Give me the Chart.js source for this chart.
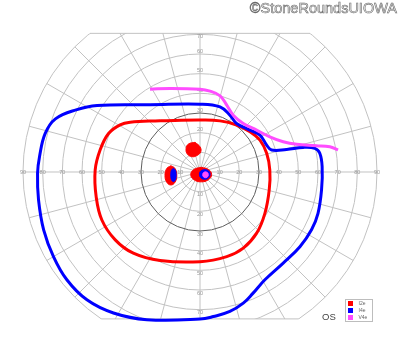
<!DOCTYPE html>
<html>
<head>
<meta charset="utf-8">
<script src="https://cdn.jsdelivr.net/npm/chart.js@4.4.0/dist/chart.umd.min.js"></script>
<style>
  html, body { margin:0; padding:0; background:#fff; }
  #wrap { position:relative; width:400px; height:352px; }
</style>
</head>
<body>
<div id="wrap"><canvas id="vf"></canvas></div>
<script>
// Goldmann visual field, left eye. All values in degrees from fixation.
const ringsDeg = [10, 20, 30, 40, 50, 60, 70, 80, 90];
const meridiansDeg = [0, 15, 30, 45, 60, 75, 90, 105, 120, 135, 150, 165, 180, 195, 210, 225, 240, 255, 270, 285, 300, 315, 330, 345];
const hTickLabels = ['10', '20', '30', '40', '50', '60', '70', '80', '90'];
const vTickLabels = ['10', '20', '30', '40', '50', '60', '70'];
const fieldTop = 70.5;
const fieldBottom = -74.7;

const legendLabels = ['I2e', 'I4e', 'V4e'];

// isopters
const isoI4e = [[-25.4,34.2],[0,34.5],[10.2,33.1],[15.2,28.9],[18.6,24.7],[25.4,21.3],[30.5,18.8],[33.9,13.7],[36.4,11.2],[44,11.5],[52.4,12.5],[58.4,12],[60.9,9.5],[62.1,2.7],[61.8,-9.1],[60,-21],[56.7,-29.4],[50.8,-38],[42.3,-46.3],[33,-54.8],[27,-61.6],[22,-66.7],[15.2,-70.9],[6.8,-73.5],[0,-74.8],[-27,-75.1],[-44,-71.7],[-57.5,-65],[-67.7,-54.8],[-74.5,-43],[-79.5,-29.4],[-82.1,-14.2],[-82.6,-0.7],[-81.6,7.8],[-78.7,19.6],[-73.5,27],[-63,31.6],[-52.3,33.8],[-25.4,34.2]];
const isoI2e = [[-20.3,26.1],[0,26.4],[10.2,26],[18.6,23.9],[25.4,20.5],[30.5,16.2],[33.9,9.5],[35.5,1],[35.2,-9.1],[33,-21],[28.8,-31.1],[22,-38.7],[13.6,-43],[0,-45.6],[-20.3,-45],[-33.9,-41.3],[-43.1,-34.5],[-49.9,-24.4],[-52.8,-12.5],[-53.3,1],[-50.8,11.2],[-46.5,19.6],[-40.6,24],[-35.5,25.3],[-20.3,26.1]];
const isoV4e = [[-25.4,42.1],[-15.2,42.5],[0,42.1],[5.1,41.1],[10.2,38.7],[13.6,34],[16.9,28.9],[22,24.7],[28.8,21.3],[35.5,17.9],[42.3,15.4],[49.1,14.1],[59.2,13.4],[66,12.8],[70.2,11.2]];

// scotomas / islands
const islandI2eUpper = [[-2.5,15.1],[0,12.8],[0.4,10.3],[-1.7,8.3],[-4.2,7.8],[-6.4,9.1],[-7.1,11.7],[-5.9,14.2],[-2.5,15.1]];
const islandI2eBlind = [[-14.8,3.2],[-12.7,1.8],[-11.8,-1.7],[-12.7,-5.2],[-14.8,-6.6],[-16.9,-5.2],[-17.8,-1.7],[-16.9,1.8],[-14.8,3.2]];
const islandI4eBlind = [[-13.5,1.9],[-12.5,0.9],[-12.15,-1.5],[-12.5,-3.9],[-13.5,-4.9],[-14.5,-3.9],[-14.85,-1.5],[-14.5,0.9],[-13.5,1.9]];
const islandI2eCentral = [[0.6,2.4],[4.3,1.3],[5.9,-1.3],[4.3,-3.9],[0.6,-5.0],[-3.1,-3.9],[-4.7,-1.3],[-3.1,1.3],[0.6,2.4]];
const islandI4eCentral = [[2.4,1.3],[4.3,0.6],[5.1,-1.2],[4.3,-3.0],[2.4,-3.7],[0.5,-3.0],[-0.3,-1.2],[0.5,0.6],[2.4,1.3]];
const islandV4eCentral = [[2.8,0.1],[3.8,-0.3],[4.2,-1.4],[3.8,-2.5],[2.8,-2.9],[1.8,-2.5],[1.4,-1.4],[1.8,-0.3],[2.8,0.1]];

const RED = '#ff0000', BLUE = '#0000ff', MAGENTA = '#ff4dff';
const pts = arr => arr.map(p => ({x: p[0], y: p[1]}));

const isopter = (label, data, color, order) => ({
  label, data: pts(data), showLine: true, borderColor: color, backgroundColor: color,
  borderWidth: 3, tension: 0.4, pointRadius: 0, fill: false, order
});
const island = (label, data, color, order) => ({
  label, data: pts(data), showLine: true, borderColor: color, backgroundColor: color,
  borderWidth: 1, tension: 0.45, pointRadius: 0, fill: 'shape', order
});

const fieldGrid = {
  id: 'fieldGrid',
  beforeDatasetsDraw(chart) {
    const {ctx, scales: {x, y}} = chart;
    const cx = x.getPixelForValue(0), cy = y.getPixelForValue(0);
    const px = d => x.getPixelForValue(d) - cx;
    const R = px(90);
    const yTop = y.getPixelForValue(fieldTop), yBot = y.getPixelForValue(fieldBottom);
    ctx.save();
    ctx.beginPath();
    ctx.rect(0, yTop, chart.width, yBot - yTop);
    ctx.clip();
    ctx.lineWidth = 1;
    ctx.strokeStyle = '#c2c2c2';
    ctx.beginPath();
    meridiansDeg.forEach(a => {
      const t = a * Math.PI / 180;
      ctx.moveTo(cx, cy);
      ctx.lineTo(cx + R * Math.cos(t), cy - R * Math.sin(t));
    });
    ringsDeg.forEach(r => {
      if (r === 30) return;
      ctx.moveTo(cx + px(r), cy);
      ctx.arc(cx, cy, px(r), 0, Math.PI * 2);
    });
    ctx.stroke();
    ctx.strokeStyle = '#5e5e5e';
    ctx.beginPath();
    ctx.arc(cx, cy, px(30), 0, Math.PI * 2);
    ctx.stroke();
    ctx.restore();

    // flat top / bottom limits of the chart
    ctx.save();
    ctx.strokeStyle = '#c2c2c2';
    ctx.lineWidth = 1;
    ctx.beginPath();
    [yTop, yBot].forEach(yy => {
      const dy = yy - cy;
      const hw = Math.sqrt(R * R - dy * dy);
      ctx.moveTo(cx - hw, yy);
      ctx.lineTo(cx + hw, yy);
    });
    ctx.stroke();

    // tick labels along the axes
    ctx.fillStyle = '#999';
    ctx.font = '5.5px "Liberation Sans", Arial, sans-serif';
    ctx.textAlign = 'center';
    ctx.textBaseline = 'middle';
    hTickLabels.forEach(t => {
      const v = +t;
      ctx.fillText(t, cx - px(v), cy);
      ctx.fillText(t, cx + px(v), cy);
    });
    vTickLabels.forEach(t => {
      const v = +t;
      if (v > 10) ctx.fillText(t, cx, Math.max(cy - px(v) - 3, yTop + 3));
      ctx.fillText(t, cx, cy + px(v) + 3);
    });
    ctx.restore();
  },
  afterDraw(chart) {
    const {ctx} = chart;
    ctx.save();
    // legend box
    const lx = 345.5, ly = 299.5;
    ctx.strokeStyle = '#bdbdbd';
    ctx.lineWidth = 1;
    ctx.strokeRect(lx, ly, 27, 22);
    const colors = [RED, BLUE, MAGENTA];
    ctx.font = '5px "Liberation Sans", Arial, sans-serif';
    ctx.textBaseline = 'middle';
    ctx.textAlign = 'left';
    legendLabels.forEach((lab, i) => {
      ctx.fillStyle = colors[i];
      ctx.fillRect(lx + 2.5, ly + 1.5 + i * 7, 5, 5);
      ctx.fillStyle = '#666';
      ctx.fillText(lab, lx + 13, ly + 4 + i * 7);
    });
    // eye
    ctx.fillStyle = '#444';
    ctx.font = '9.5px "Liberation Sans", Arial, sans-serif';
    ctx.textAlign = 'left';
    ctx.textBaseline = 'alphabetic';
    ctx.fillText('OS', 322, 320);
    // watermark
    ctx.font = '14.5px "Liberation Sans", Arial, sans-serif';
    ctx.textAlign = 'right';
    ctx.fillStyle = '#eeeeee';
    ctx.strokeStyle = '#6a6a6a';
    ctx.lineWidth = 0.6;
    ctx.fillText('\u00a9StoneRoundsUIOWA', 397, 12.7);
    ctx.strokeText('\u00a9StoneRoundsUIOWA', 397, 12.7);
    ctx.restore();
  }
};

new Chart(document.getElementById('vf'), {
  type: 'scatter',
  data: {
    datasets: [
      isopter('I2e', isoI2e, RED, 3),
      isopter('I4e', isoI4e, BLUE, 2),
      isopter('V4e', isoV4e, MAGENTA, 1),
      island('I2e upper', islandI2eUpper, RED, -1),
      island('I2e blind spot', islandI2eBlind, RED, -1),
      island('I2e central', islandI2eCentral, RED, -1),
      island('I4e blind spot', islandI4eBlind, BLUE, -2),
      island('I4e central', islandI4eCentral, BLUE, -2),
      island('V4e central', islandV4eCentral, MAGENTA, -3)
    ]
  },
  options: {
    responsive: true,
    maintainAspectRatio: false,
    animation: false,
    layout: { padding: 0 },
    scales: {
      x: { type: 'linear', min: -101.69, max: 101.69, display: false },
      y: { type: 'linear', min: -91.53, max: 87.46, display: false }
    },
    plugins: { legend: { display: false }, tooltip: { enabled: false } }
  },
  plugins: [fieldGrid]
});
</script>
</body>
</html>
